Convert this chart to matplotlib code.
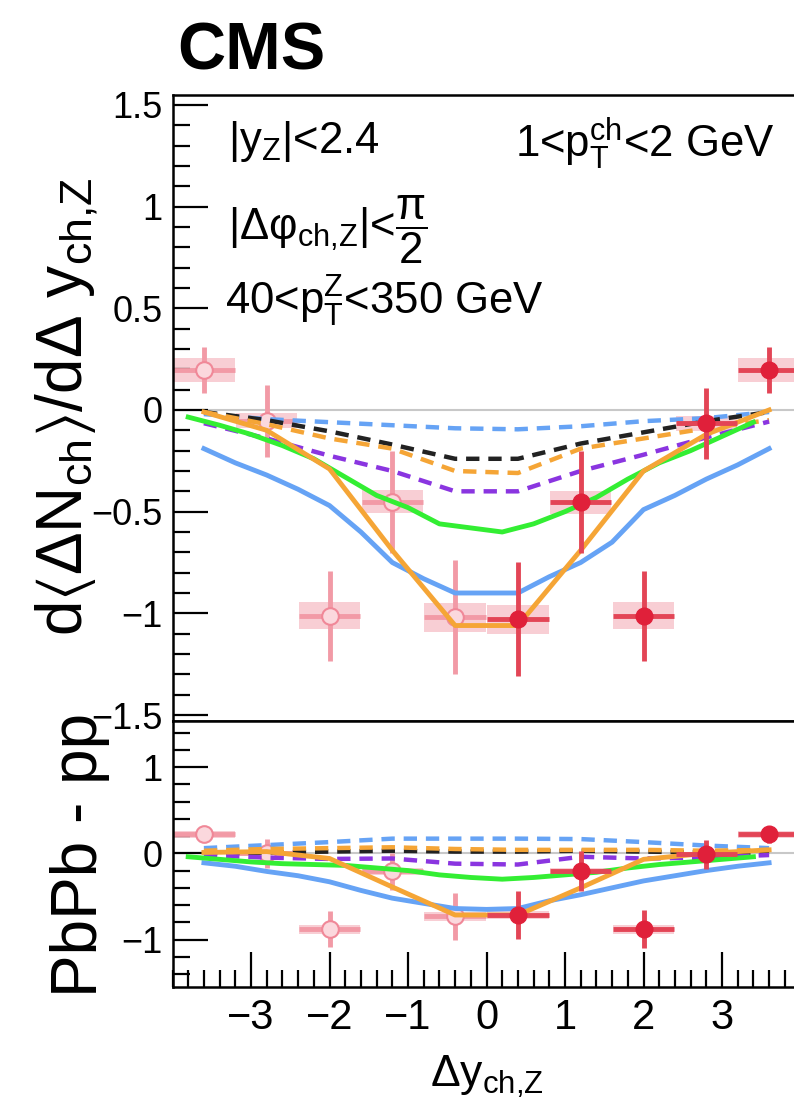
import matplotlib
matplotlib.use('Agg')
import matplotlib.pyplot as plt
from matplotlib.ticker import MultipleLocator, FixedLocator, FuncFormatter

plt.rcParams['font.family'] = ['Liberation Sans', 'DejaVu Sans']
plt.rcParams['mathtext.fontset'] = 'custom'
plt.rcParams['mathtext.rm'] = 'Liberation Sans'
plt.rcParams['mathtext.it'] = 'Liberation Sans'
plt.rcParams['mathtext.bf'] = 'Liberation Sans:bold'
plt.rcParams['mathtext.sf'] = 'Liberation Sans'
plt.rcParams['mathtext.fallback'] = 'stixsans'

# ---------------- data ----------------
x_neg = [-3.6, -2.8, -2.0, -1.2, -0.4]
x_pos = [0.4, 1.2, 2.0, 2.8, 3.6]
bin_half_width = 0.39

top_neg_vals = [0.197, -0.054, -1.012, -0.451, -1.02]
top_neg_stat = [0.115, 0.176, 0.22, 0.25, 0.28]
top_neg_sys = [0.06, 0.037, 0.066, 0.056, 0.07]
top_pos_vals = [-1.03, -0.454, -1.012, -0.066, 0.197]
top_pos_stat = [0.28, 0.25, 0.22, 0.176, 0.115]
top_pos_sys = [0.07, 0.056, 0.066, 0.037, 0.06]

bot_neg_vals = [0.22, 0.0, -0.88, -0.21, -0.73]
bot_neg_stat = [0.08, 0.17, 0.21, 0.21, 0.274]
bot_neg_sys = [0.04, 0.03, 0.05, 0.04, 0.05]
bot_pos_vals = [-0.715, -0.205, -0.88, -0.01, 0.22]
bot_pos_stat = [0.28, 0.23, 0.22, 0.17, 0.10]
bot_pos_sys = [0.05, 0.04, 0.05, 0.03, 0.04]

# model curves
x_fine = [-3.6, -3.2, -2.8, -2.4, -2.0, -1.6, -1.2, -0.8, -0.4, 0.0,
          0.4, 0.8, 1.2, 1.6, 2.0, 2.4, 2.8, 3.2, 3.6]
x_green = [-3.8, -3.4, -3.0, -2.6, -2.2, -1.8, -1.4, -1.0, -0.6, -0.2,
           0.2, 0.6, 1.0, 1.4, 1.8, 2.2, 2.6, 3.0, 3.4]
x_bins = [-3.6, -2.8, -2.0, -1.2, -0.4, 0.4, 1.2, 2.0, 2.8, 3.6]

top_blue_solid = [-0.19, -0.26, -0.32, -0.39, -0.47, -0.60, -0.75, -0.83, -0.90, -0.90,
                  -0.90, -0.82, -0.75, -0.65, -0.49, -0.42, -0.34, -0.27, -0.19]
top_green = [-0.035, -0.075, -0.12, -0.175, -0.24, -0.33, -0.42, -0.48, -0.56, -0.58,
             -0.60, -0.56, -0.50, -0.43, -0.34, -0.26, -0.20, -0.13, -0.06]
top_orange_solid = [-0.01, -0.10, -0.29, -0.69, -1.06, -1.06, -0.69, -0.30, -0.12, 0.0]
top_blue_dash = [-0.02, -0.045, -0.06, -0.075, -0.09, -0.095, -0.08, -0.055, -0.04, -0.01]
top_black_dash = [-0.01, -0.05, -0.105, -0.17, -0.24, -0.24, -0.165, -0.11, -0.055, -0.01]
top_orange_dash = [-0.01, -0.07, -0.14, -0.19, -0.30, -0.31, -0.19, -0.14, -0.09, -0.05]
top_purple_dash = [-0.065, -0.14, -0.225, -0.30, -0.40, -0.40, -0.30, -0.22, -0.135, -0.057]

bot_blue_solid = [-0.11, -0.15, -0.21, -0.26, -0.33, -0.43, -0.52, -0.58, -0.64, -0.65,
                  -0.64, -0.55, -0.48, -0.40, -0.32, -0.26, -0.20, -0.15, -0.11]
bot_green = [-0.04, -0.07, -0.10, -0.12, -0.13, -0.14, -0.17, -0.20, -0.25, -0.28,
             -0.30, -0.28, -0.25, -0.22, -0.17, -0.13, -0.10, -0.07, -0.04]
bot_orange_solid = [0.01, 0.02, -0.06, -0.39, -0.715, -0.715, -0.40, -0.07, 0.0, 0.04]
bot_blue_dash = [0.06, 0.095, 0.13, 0.17, 0.17, 0.17, 0.165, 0.13, 0.09, 0.06]
bot_orange_dash = [0.03, 0.05, 0.06, 0.07, 0.05, 0.04, 0.04, 0.04, 0.03, 0.04]
bot_black_dash = [0.0, 0.01, 0.02, 0.03, 0.02, 0.02, 0.03, 0.02, 0.01, 0.0]
bot_purple_dash = [-0.02, -0.05, -0.065, -0.06, -0.12, -0.13, -0.04, -0.06, -0.05, -0.02]

x_tick_labels = [-3, -2, -1, 0, 1, 2, 3]

# ---------------- style ----------------
BLUE = '#66a3f5'
GREEN = '#33ee33'
ORANGE = '#f5a536'
PURPLE = '#8a35e0'
BLACK = '#222222'
RED = '#e0203a'
RED_ERR = '#e34556'
PINK = '#f08898'
PINK_ERR = '#f29aa6'
PINK_FACE = '#fbd8dd'
BOX = '#f7c6cd'

W, H = 794, 1111
fig = plt.figure(figsize=(W / 100, H / 100), dpi=100)

left = 172.5 / W
width = 628 / W
ax1 = fig.add_axes([left, 1 - 720.7 / H, width, (720.7 - 95) / H])
ax2 = fig.add_axes([left, 1 - 987.3 / H, width, (987.3 - 720.7) / H])


def fmt(v, pos):
    s = '%g' % v
    return s.replace('-', '\u2212')


def draw_panel(ax, neg_vals, neg_stat, neg_sys, pos_vals, pos_stat, pos_sys,
               blue_s, green_s, orange_s, blue_d, black_d, orange_d, purple_d):
    ax.axhline(0, color='#c8c8c8', lw=1.5, zorder=0.5)
    # systematic boxes
    ax.bar(x_neg, [2 * s for s in neg_sys], width=2 * bin_half_width,
           bottom=[v - s for v, s in zip(neg_vals, neg_sys)],
           color=BOX, edgecolor='none', alpha=0.85, zorder=1)
    ax.bar(x_pos, [2 * s for s in pos_sys], width=2 * bin_half_width,
           bottom=[v - s for v, s in zip(pos_vals, pos_sys)],
           color=BOX, edgecolor='none', alpha=0.85, zorder=1)
    # open points (below curves)
    ax.errorbar(x_neg, neg_vals, yerr=neg_stat, xerr=bin_half_width, fmt='o',
                ms=12, mfc=PINK_FACE, mec=PINK, mew=1.5, ecolor=PINK_ERR,
                elinewidth=3.5, capsize=0, zorder=2)
    # curves
    lw = 3.2
    ax.plot(x_bins, blue_d, color=BLUE, lw=lw, dashes=(3, 2), zorder=3)
    ax.plot(x_bins, black_d, color=BLACK, lw=lw, dashes=(3, 2), zorder=3)
    ax.plot(x_bins, orange_d, color=ORANGE, lw=lw, dashes=(3, 2), zorder=3)
    ax.plot(x_bins, purple_d, color=PURPLE, lw=lw, dashes=(3, 2), zorder=3)
    ax.plot(x_fine, blue_s, color=BLUE, lw=3.5, zorder=3)
    ax.plot(x_green, green_s, color=GREEN, lw=3.5, zorder=3)
    ax.plot(x_bins, orange_s, color=ORANGE, lw=3.5, zorder=3)
    # filled points (above curves)
    ax.errorbar(x_pos, pos_vals, yerr=pos_stat, xerr=bin_half_width, fmt='o',
                ms=12, color=RED, ecolor=RED_ERR, elinewidth=3.5, capsize=0,
                zorder=4)
    ax.set_xlim(-4, 4)
    for sp in ax.spines.values():
        sp.set_linewidth(1.8)
    ax.tick_params(which='both', direction='in', width=1.6, colors='black')
    ax.tick_params(which='major', length=25)
    ax.tick_params(which='minor', length=12.5)
    ax.tick_params(axis='y', which='both', right=False, labelsize=26, pad=7)
    ax.yaxis.set_major_formatter(FuncFormatter(fmt))


draw_panel(ax1, top_neg_vals, top_neg_stat, top_neg_sys,
           top_pos_vals, top_pos_stat, top_pos_sys,
           top_blue_solid, top_green, top_orange_solid,
           top_blue_dash, top_black_dash, top_orange_dash, top_purple_dash)
draw_panel(ax2, bot_neg_vals, bot_neg_stat, bot_neg_sys,
           bot_pos_vals, bot_pos_stat, bot_pos_sys,
           bot_blue_solid, bot_green, bot_orange_solid,
           bot_blue_dash, bot_black_dash, bot_orange_dash, bot_purple_dash)

ax1.set_ylim(-1.528, 1.549)
ax1.yaxis.set_major_locator(MultipleLocator(0.5))
ax1.yaxis.set_minor_locator(MultipleLocator(0.1))
ax1.tick_params(axis='x', which='both', bottom=False, top=False,
                labelbottom=False)

ax2.set_ylim(-1.553, 1.537)
ax2.yaxis.set_major_locator(MultipleLocator(1))
ax2.yaxis.set_minor_locator(MultipleLocator(0.2))
ax2.xaxis.set_major_locator(FixedLocator(x_tick_labels))
ax2.xaxis.set_minor_locator(MultipleLocator(0.2))
ax2.xaxis.set_major_formatter(FuncFormatter(fmt))
ax2.tick_params(axis='x', which='both', top=False, labelsize=30, pad=8)

# texts
TS = 31.5
fig.text(177 / W, 1 - 70 / H, 'CMS', fontsize=48, fontweight='bold',
         ha='left', va='baseline')
fig.text(228 / W, 1 - 153 / H, '|y$_{Z}$|<2.4', fontsize=TS,
         ha='left', va='baseline')
fig.text(515 / W, 1 - 157 / H, '1<p$_{T}^{ch}$<2 GeV', fontsize=TS,
         ha='left', va='baseline')
fig.text(228 / W, 1 - 240 / H,
         '|\u0394\u03c6$_{ch{,}Z}$|<$\\dfrac{\\pi}{2}$',
         fontsize=TS, ha='left', va='baseline')
fig.text(225 / W, 1 - 315 / H, '40<p$_{T}^{Z}$<350 GeV', fontsize=TS,
         ha='left', va='baseline')

fig.text(66 / W, 1 - 407 / H,
         'd$\\langle$\u0394N$_{ch}$$\\rangle$/d\u0394 y$_{ch{,}Z}$',
         fontsize=46, rotation=90, ha='center', va='center')
fig.text(80 / W, 1 - 855 / H, 'PbPb - pp', fontsize=46, rotation=90,
         ha='center', va='center')
fig.text(486.5 / W, 1 - 1087 / H, '\u0394y$_{ch{,}Z}$', fontsize=32,
         ha='center', va='baseline')

fig.savefig('out.png', dpi=100)
